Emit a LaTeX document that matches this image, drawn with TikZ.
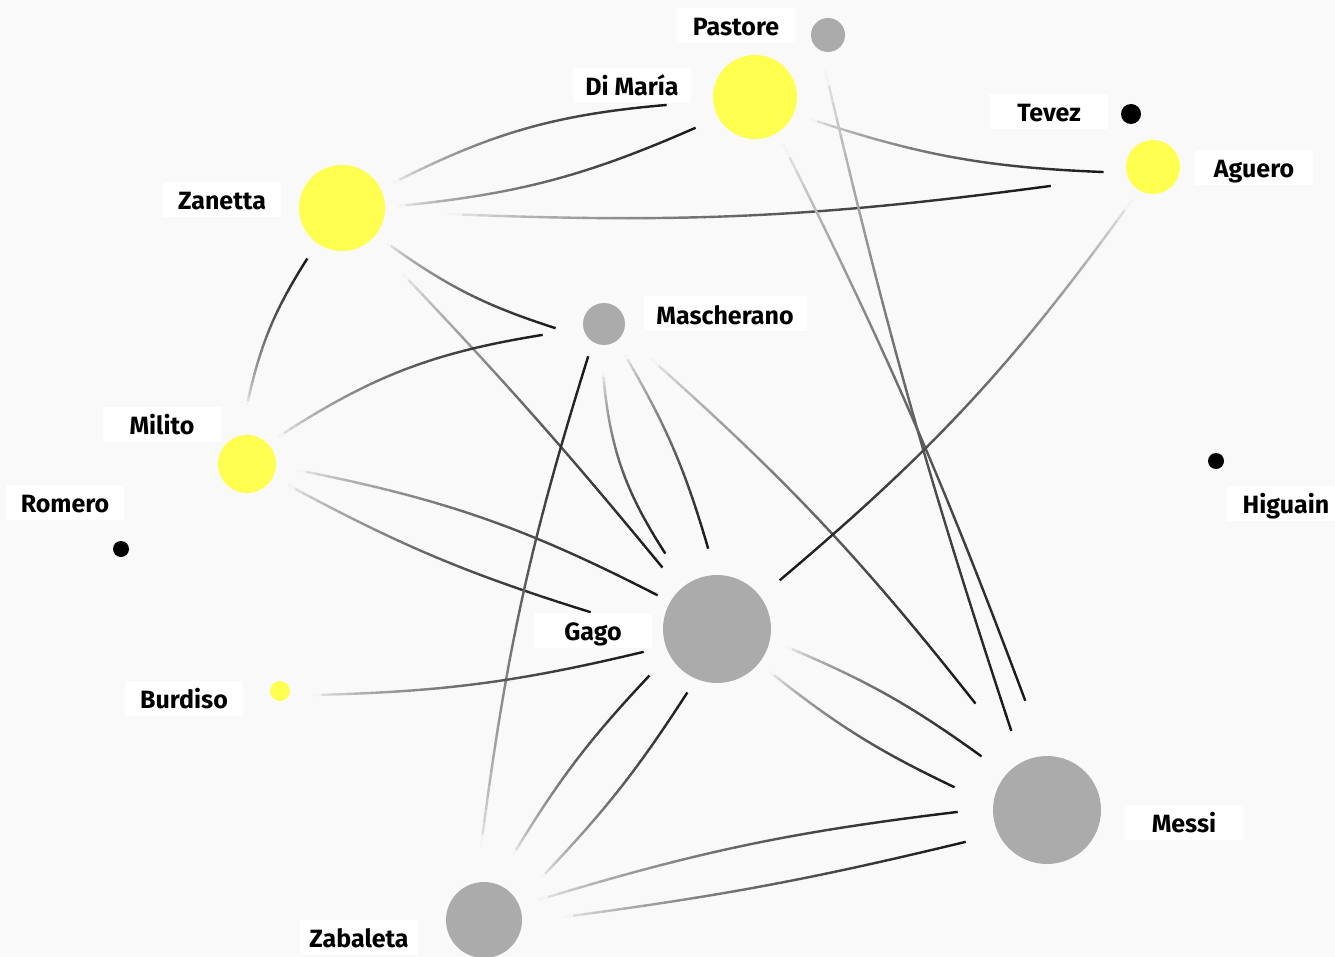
\documentclass[tikz,border=0pt]{standalone}
\usepackage{fontspec}
\setmainfont{Fira Sans}
\usetikzlibrary{calc,decorations.markings}

\definecolor{bg}{HTML}{F9F9F9}
\definecolor{teamyellow}{HTML}{FFFF4F}
\definecolor{teamgray}{HTML}{ABABAB}

\tikzset{
  player/.style={circle, draw=none, inner sep=0pt, minimum size=#1},
  yellowplayer/.style={player=#1, fill=teamyellow},
  grayplayer/.style={player=#1, fill=teamgray},
  blackplayer/.style={player=#1, fill=black},
  tag/.style={fill=white, inner sep=0pt, minimum width=118pt, minimum height=35pt,
    text height=20pt, text depth=0pt, font=\bfseries\fontsize{25}{25}\selectfont},
  % a pass: stroke that runs from pale at the passer to dark at the receiver
  passedge/.style={
    postaction={decorate, decoration={markings,
      mark=between positions 0 and 0.99 step 0.025 with {%
        \pgfmathsetmacro\passfrac{\pgfkeysvalueof{/pgf/decoration/mark info/distance from start}/\pgfdecoratedpathlength}%
        \pgfmathsetmacro\passink{4+88*(\passfrac+0.0001)^0.6}%
        \pgfmathsetlengthmacro\passseg{\pgfdecoratedpathlength/40+0.5pt}%
        \draw[line width=2.4pt, draw=black!\passink, line cap=butt] (0pt,0pt) -- (\passseg,0pt);
      }}}
  }
}
\newcommand{\passline}[5]{\path[passedge] ($(#1)+(#2)$) to[#5] ($(#3)+(#4)$);}

\begin{document}
\begin{tikzpicture}[x=1pt, y=-1pt]
  \useasboundingbox (0,0) rectangle (1335,957);
  \fill[bg] (0,0) rectangle (1335,957);

  % players
  \node[grayplayer=34pt]   (pastore)    at (828,35)   {};
  \node[yellowplayer=84pt] (dimaria)    at (755,97)   {};
  \node[blackplayer=20pt]  (tevez)      at (1131,114) {};
  \node[yellowplayer=54pt] (aguero)     at (1153,167) {};
  \node[yellowplayer=86pt] (zanetta)    at (342,208)  {};
  \node[grayplayer=42pt]   (mascherano) at (604,324)  {};
  \node[yellowplayer=58pt] (milito)     at (247,464)  {};
  \node[blackplayer=16pt]  (romero)     at (121,549)  {};
  \node[blackplayer=16pt]  (higuain)    at (1216,461) {};
  \node[grayplayer=108pt]  (gago)       at (717,629)  {};
  \node[yellowplayer=20pt] (burdiso)    at (280,691)  {};
  \node[grayplayer=108pt]  (messi)      at (1047,810) {};
  \node[grayplayer=76pt]   (zabaleta)   at (484,920)  {};

  % passes
  \passline{zanetta}{51,-25}{dimaria}{-89,8}{bend left=11}
  \passline{zanetta}{56,-2}{dimaria}{-60,31}{bend right=9}
  \passline{zanetta}{105,6}{aguero}{-103,19}{bend right=5}
  \passline{dimaria}{55,22}{aguero}{-50,5}{bend right=8}
  \passline{zanetta}{45,35}{mascherano}{-49,4}{bend right=9}
  \passline{zanetta}{60,65}{gago}{-55,-62}{bend left=2}
  \passline{milito}{0,-59}{zanetta}{-35,51}{bend left=10}
  \passline{milito}{31,-27}{mascherano}{-62,11}{bend left=12}
  \passline{milito}{50,6}{gago}{-60,-34}{bend left=8}
  \passline{milito}{41,21}{gago}{-127,-17}{bend right=5.5}
  \passline{zabaleta}{-3,-73}{mascherano}{-16,33}{bend left=5}
  \passline{mascherano}{-1,48}{gago}{-52,-76}{bend right=14}
  \passline{mascherano}{21,31}{gago}{-9,-81}{bend left=7}
  \passline{mascherano}{46,34}{messi}{-72,-107}{bend left=5}
  \passline{pastore}{-3,34}{messi}{-36,-80}{bend right=2.5}
  \passline{dimaria}{28,47}{messi}{-22,-110}{bend left=3}
  \passline{aguero}{-21,33}{gago}{63,-49}{bend left=7}
  \passline{burdiso}{33,4}{gago}{-74,23}{bend right=6}
  \passline{gago}{70,18}{messi}{-66,-54}{bend left=6.5}
  \passline{gago}{53,43}{messi}{-93,-23}{bend right=6.5}
  \passline{zabaleta}{29,-65}{gago}{-68,47}{bend left=6}
  \passline{zabaleta}{57,-42}{gago}{-30,64}{bend right=5.4}
  \passline{zabaleta}{54,-20}{messi}{-90,2}{bend left=5}
  \passline{zabaleta}{79,-3}{messi}{-82,32}{bend right=3}

  % name tags
  \node[tag] (pastoretag)    at (736,26)   {Pastore};
  \node[tag] (dimariatag)    at (632,86)   {Di María};
  \node[tag] (teveztag)      at (1049,112) {Tevez};
  \node[tag] (aguerotag)     at (1254,168) {Aguero};
  \node[tag] (zanettatag)    at (222,200)  {Zanetta};
  \node[tag, minimum width=163pt] (mascheranotag) at (725,314) {Mascherano};
  \node[tag] (militotag)     at (162,424)  {Milito};
  \node[tag] (romerotag)     at (65,502)   {Romero};
  \node[tag] (higuaintag)    at (1286,503) {Higuain};
  \node[tag] (gagotag)       at (593,630)  {Gago};
  \node[tag] (burdisotag)    at (184,698)  {Burdiso};
  \node[tag] (messitag)      at (1184,822) {Messi};
  \node[tag] (zabaletatag)   at (359,937)  {Zabaleta};
\end{tikzpicture}
\end{document}
